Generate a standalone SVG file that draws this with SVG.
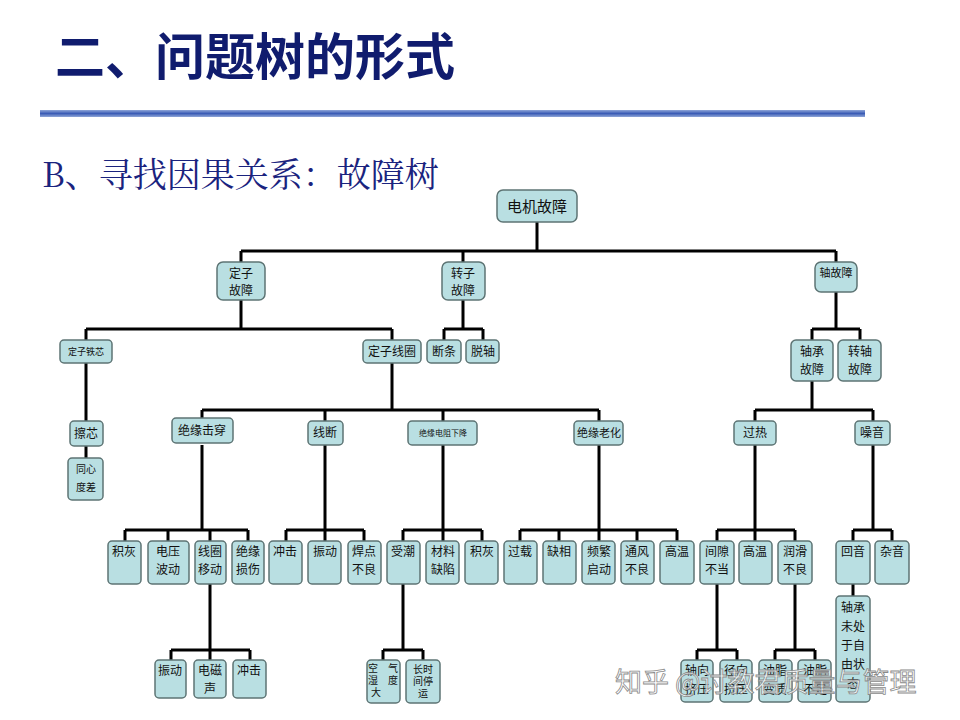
<svg xmlns="http://www.w3.org/2000/svg" width="960" height="720" viewBox="0 0 960 720">
<defs>
<linearGradient id="rule" x1="0" y1="0" x2="0" y2="1"><stop offset="0" stop-color="#8fa6d8"/><stop offset="0.5" stop-color="#3b5cb5"/><stop offset="1" stop-color="#8fa6d8"/></linearGradient>
</defs>
<style>
.n rect{fill:#b9dfe2;stroke:#5d7474;stroke-width:1.5}
.n text{font-family:"Noto Sans CJK SC",sans-serif;font-size:12px;fill:#111;text-anchor:middle}
.c{stroke:#000;stroke-width:3;fill:none}
</style>
<rect width="960" height="720" fill="#fff"/>
<text x="55" y="75" font-family="'Noto Sans CJK SC',sans-serif" font-weight="bold" font-size="50" fill="#101c6e">二、问题树的形式</text>
<rect x="40" y="110" width="825" height="7" fill="url(#rule)"/>
<text x="42" y="187" font-family="'Noto Serif CJK SC','Noto Sans CJK SC',serif" font-size="34" fill="#1a237e">B、寻找因果关系：故障树</text>
<g id="connectors">
<path class="c" d="M537 222V251M241 251H836M241 251V262M463 251V262M836 251V262"/>
<path class="c" d="M241 300V329M86 329H392M86 329V340M392 329V340M463 300V329M444 329H483M444 329V340M483 329V340M836 292V329M812 329H860M812 329V340M860 329V340"/>
<path class="c" d="M86 363V421M86 446V458"/>
<path class="c" d="M392 363V410M202 410H599M202 410V421M325 410V421M443 410V421M599 410V421M812 381V410M755 410H873M755 410V421M873 410V421"/>
<path class="c" d="M202 445V530M125 530H248M125 530V541M168 530V541M210 530V541M248 530V541"/>
<path class="c" d="M325 445V530M286 530H364M286 530V541M325 530V541M364 530V541"/>
<path class="c" d="M443 445V530M403 530H482M403 530V541M443 530V541M482 530V541"/>
<path class="c" d="M599 445V530M520 530H677M520 530V541M559 530V541M599 530V541M637 530V541M677 530V541"/>
<path class="c" d="M755 445V530M717 530H795M717 530V541M755 530V541M795 530V541"/>
<path class="c" d="M873 445V530M853 530H892M853 530V541M892 530V541M853 584V596"/>
<path class="c" d="M210 584V650M171 650H250M171 650V660M210 650V660M250 650V660"/>
<path class="c" d="M403 584V650M383 650H423M383 650V660M423 650V660"/>
<path class="c" d="M717 584V650M697 650H737M697 650V660M737 650V660"/>
<path class="c" d="M795 584V650M775 650H815M775 650V660M815 650V660"/>
</g>
<g id="n-root" class="n"><rect x="497" y="190" width="80" height="32" rx="6"/><text x="537" y="212" style="font-size:15px">电机故障</text></g>
<g id="n-dzgz" class="n"><rect x="217" y="262" width="48" height="38" rx="6"/><text x="241" y="278">定子</text><text x="241" y="295">故障</text></g>
<g id="n-zzgz" class="n"><rect x="442" y="262" width="43" height="38" rx="6"/><text x="463" y="278">转子</text><text x="463" y="295">故障</text></g>
<g id="n-zgz" class="n"><rect x="815" y="262" width="42" height="30" rx="6"/><text x="836" y="277" style="font-size:11px">轴故障</text></g>
<g id="n-dztx" class="n"><rect x="60" y="340" width="52" height="23" rx="4"/><text x="86" y="355" style="font-size:9px">定子铁芯</text></g>
<g id="n-dzxq" class="n"><rect x="363" y="340" width="58" height="23" rx="4"/><text x="392" y="356">定子线圈</text></g>
<g id="n-dt" class="n"><rect x="427" y="340" width="34" height="23" rx="4"/><text x="444" y="356">断条</text></g>
<g id="n-tz" class="n"><rect x="466" y="340" width="33" height="23" rx="4"/><text x="483" y="356">脱轴</text></g>
<g id="n-zcgz" class="n"><rect x="791" y="340" width="42" height="41" rx="5"/><text x="812" y="356">轴承</text><text x="812" y="374">故障</text></g>
<g id="n-zzgz2" class="n"><rect x="838" y="340" width="43" height="41" rx="5"/><text x="860" y="356">转轴</text><text x="860" y="374">故障</text></g>
<g id="n-cx" class="n"><rect x="70" y="421" width="33" height="25" rx="4"/><text x="86" y="438">擦芯</text></g>
<g id="n-txdc" class="n"><rect x="68" y="458" width="35" height="42" rx="4"/><text x="86" y="473" style="font-size:10px">同心</text><text x="86" y="491" style="font-size:10px">度差</text></g>
<g id="n-jyjc" class="n"><rect x="172" y="418" width="61" height="25" rx="4"/><text x="202" y="435">绝缘击穿</text></g>
<g id="n-xd" class="n"><rect x="308" y="421" width="35" height="24" rx="4"/><text x="325" y="437">线断</text></g>
<g id="n-jydz" class="n"><rect x="408" y="421" width="69" height="24" rx="4"/><text x="443" y="436" style="font-size:8px">绝缘电阻下降</text></g>
<g id="n-jylh" class="n"><rect x="574" y="421" width="49" height="24" rx="4"/><text x="599" y="437" style="font-size:11px">绝缘老化</text></g>
<g id="n-gr" class="n"><rect x="734" y="421" width="42" height="24" rx="4"/><text x="755" y="437">过热</text></g>
<g id="n-zy" class="n"><rect x="855" y="421" width="35" height="24" rx="4"/><text x="872" y="437">噪音</text></g>
<g id="n-jh1" class="n"><rect x="108" y="541" width="33" height="43" rx="4"/><text x="124" y="556">积灰</text></g>
<g id="n-dybd" class="n"><rect x="148" y="541" width="41" height="43" rx="4"/><text x="168" y="556">电压</text><text x="168" y="574">波动</text></g>
<g id="n-xqyd" class="n"><rect x="195" y="541" width="31" height="43" rx="4"/><text x="210" y="556">线圈</text><text x="210" y="574">移动</text></g>
<g id="n-jyss" class="n"><rect x="232" y="541" width="32" height="43" rx="4"/><text x="248" y="556">绝缘</text><text x="248" y="574">损伤</text></g>
<g id="n-cj1" class="n"><rect x="269" y="541" width="33" height="43" rx="4"/><text x="285" y="556">冲击</text></g>
<g id="n-zd1" class="n"><rect x="308" y="541" width="33" height="43" rx="4"/><text x="325" y="556">振动</text></g>
<g id="n-hdbl" class="n"><rect x="348" y="541" width="33" height="43" rx="4"/><text x="364" y="556">焊点</text><text x="364" y="574">不良</text></g>
<g id="n-sc" class="n"><rect x="387" y="541" width="33" height="43" rx="4"/><text x="403" y="556">受潮</text></g>
<g id="n-clqx" class="n"><rect x="426" y="541" width="33" height="43" rx="4"/><text x="443" y="556">材料</text><text x="443" y="574">缺陷</text></g>
<g id="n-jh2" class="n"><rect x="465" y="541" width="33" height="43" rx="4"/><text x="482" y="556">积灰</text></g>
<g id="n-gz" class="n"><rect x="504" y="541" width="33" height="43" rx="4"/><text x="520" y="556">过载</text></g>
<g id="n-qx" class="n"><rect x="543" y="541" width="33" height="43" rx="4"/><text x="559" y="556">缺相</text></g>
<g id="n-pfqd" class="n"><rect x="582" y="541" width="33" height="43" rx="4"/><text x="599" y="556">频繁</text><text x="599" y="574">启动</text></g>
<g id="n-tfbl" class="n"><rect x="621" y="541" width="33" height="43" rx="4"/><text x="637" y="556">通风</text><text x="637" y="574">不良</text></g>
<g id="n-gw1" class="n"><rect x="660" y="541" width="34" height="43" rx="4"/><text x="677" y="556">高温</text></g>
<g id="n-jxbd" class="n"><rect x="700" y="541" width="34" height="43" rx="4"/><text x="717" y="556">间隙</text><text x="717" y="574">不当</text></g>
<g id="n-gw2" class="n"><rect x="739" y="541" width="33" height="43" rx="4"/><text x="755" y="556">高温</text></g>
<g id="n-rhbl" class="n"><rect x="778" y="541" width="34" height="43" rx="4"/><text x="795" y="556">润滑</text><text x="795" y="574">不良</text></g>
<g id="n-hy" class="n"><rect x="836" y="541" width="34" height="43" rx="4"/><text x="853" y="556">回音</text></g>
<g id="n-zay" class="n"><rect x="875" y="541" width="34" height="43" rx="4"/><text x="892" y="556">杂音</text></g>
<g id="n-zd2" class="n"><rect x="155" y="660" width="31" height="38" rx="4"/><text x="170" y="675">振动</text></g>
<g id="n-dcs" class="n"><rect x="194" y="660" width="32" height="38" rx="4"/><text x="210" y="675">电磁</text><text x="210" y="693">声</text></g>
<g id="n-cj2" class="n"><rect x="233" y="660" width="33" height="38" rx="4"/><text x="249" y="675">冲击</text></g>
<g id="n-kqsd" class="n"><rect x="367" y="660" width="33" height="43" rx="4"/><text x="383" y="672" style="font-size:10px">空　气</text><text x="383" y="684" style="font-size:10px">湿　度</text><text x="376" y="696" style="font-size:10px">大</text></g>
<g id="n-csjty" class="n"><rect x="406" y="660" width="34" height="43" rx="4"/><text x="423" y="673" style="font-size:10px">长时</text><text x="423" y="685" style="font-size:10px">间停</text><text x="423" y="697" style="font-size:10px">运</text></g>
<g id="n-zxjy" class="n"><rect x="681" y="660" width="32" height="42" rx="4"/><text x="697" y="675">轴向</text><text x="697" y="694">挤压</text></g>
<g id="n-jxjy" class="n"><rect x="720" y="660" width="32" height="42" rx="4"/><text x="736" y="675">径向</text><text x="736" y="694">挤压</text></g>
<g id="n-yzbz" class="n"><rect x="759" y="660" width="33" height="42" rx="4"/><text x="775" y="675">油脂</text><text x="775" y="694">变质</text></g>
<g id="n-yzbz2" class="n"><rect x="798" y="660" width="33" height="42" rx="4"/><text x="815" y="675">油脂</text><text x="815" y="694">不足</text></g>
<g id="n-zcwc" class="n"><rect x="836" y="596" width="34" height="106" rx="4"/><text x="853" y="612">轴承</text><text x="853" y="631">未处</text><text x="853" y="650">于自</text><text x="853" y="669">由状</text><text x="853" y="688">态</text></g>
<text x="615" y="692" font-family="'Noto Sans CJK SC',sans-serif" font-size="27" fill="#fff" fill-opacity="0.75" stroke="#8a8a8a" stroke-width="0.8">知乎 @讨教君质量与管理</text>
</svg>
